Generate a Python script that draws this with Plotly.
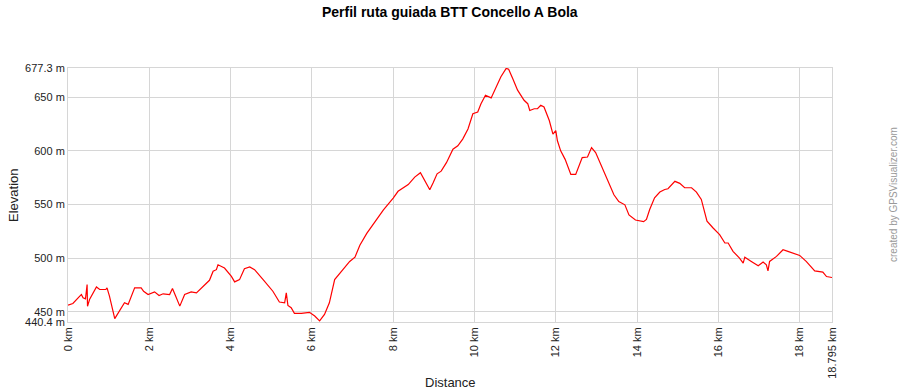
import plotly.graph_objects as go

distance_km = [
    0.0, 0.12, 0.29, 0.33, 0.37, 0.43, 0.47, 0.48, 0.53, 0.61, 0.70, 0.78, 0.93, 0.96,
    1.02, 1.15, 1.27, 1.39, 1.48, 1.56, 1.64, 1.80, 1.86, 1.97, 2.13, 2.24, 2.34, 2.50,
    2.57, 2.65, 2.75, 2.87, 3.03, 3.16, 3.32, 3.48, 3.57, 3.65, 3.69, 3.85, 4.02, 4.10,
    4.22, 4.29, 4.34, 4.47, 4.59, 4.80, 5.04, 5.20, 5.33, 5.37, 5.41, 5.49, 5.57, 5.74,
    5.94, 6.07, 6.19, 6.31, 6.43, 6.56, 6.64, 6.72, 6.93,
    7.06, 7.18, 7.35, 7.55, 7.76, 8.0, 8.12, 8.37, 8.53, 8.67, 8.78, 8.90, 8.98, 9.08,
    9.18, 9.31, 9.47, 9.59, 9.71, 9.84, 9.96, 10.08, 10.16, 10.27, 10.41, 10.53, 10.65,
    10.78, 10.84, 10.94, 11.06, 11.22, 11.31, 11.36, 11.47, 11.55, 11.63, 11.71, 11.84,
    11.93, 12.0, 12.04, 12.12, 12.23, 12.37, 12.49, 12.65, 12.78, 12.88, 12.98, 13.14,
    13.31, 13.43, 13.55, 13.70, 13.80, 13.96, 14.16, 14.23, 14.31, 14.43, 14.56, 14.68,
    14.76, 14.93, 15.05, 15.17, 15.34, 15.46, 15.58, 15.66, 15.72, 15.87, 16.03, 16.16,
    16.24, 16.36, 16.52, 16.61, 16.65, 16.81, 16.98, 17.10, 17.18, 17.22, 17.26, 17.43,
    17.59, 17.71, 18.0, 18.16, 18.37, 18.57, 18.66, 18.795,
]

elevation_m = [
    456.2, 457.7, 464.5, 466.0, 463.0, 462.0, 475.3, 455.0, 461.4, 467.6, 473.1, 470.7, 470.7, 472.2,
    464.5, 443.5, 450.6, 458.3, 456.8, 464.5, 472.2, 472.2, 469.1, 466.0, 468.5, 465.1, 466.7, 466.0,
    471.6, 464.5, 455.2, 466.0, 468.5, 467.6, 473.1, 479.3, 487.7, 489.2, 493.8, 490.7, 483.0, 477.8,
    479.9, 486.1, 490.1, 491.7, 489.2, 479.9, 469.1, 459.0, 458.3, 467.6, 455.9, 453.7, 448.5, 448.5,
    449.4, 446.0, 441.4, 447.5, 458.3, 480.0, 483.6, 487.7, 496.9,
    500.9, 512.0, 523.0, 534.0, 545.0, 556.0, 562.3, 568.6, 575.5, 579.6, 571.7, 563.8, 570.1, 578.6,
    581.1, 589.0, 601.6, 604.7, 611.0, 620.4, 634.6, 636.2, 644.0, 651.9, 649.4, 659.7, 669.2,
    677.0, 676.1, 667.6, 656.6, 647.2, 644.0, 637.7, 639.3, 639.3, 642.5, 640.9, 628.3,
    615.7, 618.9, 609.4, 600.0, 592.1, 578.0, 578.0, 593.7, 594.3, 603.1, 598.4, 584.3,
    568.6, 559.1, 552.8, 549.7, 540.3, 535.5, 534.0, 536.0, 545.3, 556.3, 561.6, 564.0,
    564.7, 571.6, 569.7, 565.6, 565.6, 561.6, 554.7, 542.2, 534.4, 528.1, 521.9, 514.1,
    514.1, 506.3, 500.0, 495.3, 500.9, 496.9, 492.8, 496.3, 493.8, 488.1, 496.9, 501.6,
    507.8, 506.3, 502.5, 496.9, 488.1, 486.9, 482.8, 481.9,
]

x_tick_vals = [0, 2, 4, 6, 8, 10, 12, 14, 16, 18, 18.795]
x_tick_text = ["0 km", "2 km", "4 km", "6 km", "8 km", "10 km", "12 km", "14 km",
               "16 km", "18 km", "18.795 km"]
y_tick_vals = [440.4, 450, 500, 550, 600, 650, 677.3]
y_tick_text = ["440.4 m", "450 m", "500 m", "550 m", "600 m", "650 m", "677.3 m"]

title_text = "Perfil ruta guiada BTT Concello A Bola"
x_title = "Distance"
y_title = "Elevation"
credit_text = "created by GPSVisualizer.com"

FONT = "Liberation Sans, Arial, sans-serif"
GRID = "#d6d6d6"

fig = go.Figure()
fig.add_trace(go.Scatter(
    x=distance_km, y=elevation_m, mode="lines",
    line=dict(color="#ff0000", width=1.2),
    hoverinfo="skip", showlegend=False,
))

W, H = 900, 391
L, R, T, B = 68, 68, 68, 67
pw = W - L - R
ph = H - T - B

def px_x(px):
    return (px - L) / pw

def px_y(py):
    return (H - B - py) / ph

fig.update_layout(
    width=W, height=H,
    margin=dict(l=L, r=R, t=T, b=B, pad=0),
    paper_bgcolor="white", plot_bgcolor="white",
    font=dict(family=FONT, size=11, color="#222222"),
    xaxis=dict(
        range=[0, 18.795], tickmode="array", tickvals=x_tick_vals, ticktext=x_tick_text,
        tickangle=-90, showgrid=True, gridcolor=GRID, gridwidth=1, zeroline=False,
        showline=True, linecolor=GRID, mirror=True, ticks="", ticklen=0,
        tickfont=dict(family=FONT, size=11, color="#222222"),
    ),
    yaxis=dict(
        range=[440.4, 677.3], tickmode="array", tickvals=y_tick_vals, ticktext=y_tick_text,
        showgrid=True, gridcolor=GRID, gridwidth=1, zeroline=False,
        showline=True, linecolor=GRID, mirror=True, ticks="", ticklen=2,
        tickfont=dict(family=FONT, size=11, color="#222222"),
    ),
    annotations=[
        dict(text="<b>" + title_text + "</b>", xref="paper", yref="paper",
             x=px_x(450), y=px_y(12), xanchor="center", yanchor="middle",
             showarrow=False, font=dict(family=FONT, size=14, color="#000000")),
        dict(text=x_title, xref="paper", yref="paper",
             x=px_x(450), y=px_y(385), xanchor="center", yanchor="middle",
             showarrow=False, font=dict(family=FONT, size=13, color="#222222")),
        dict(text=y_title, xref="paper", yref="paper", textangle=-90,
             x=px_x(13), y=px_y(196), xanchor="center", yanchor="middle",
             showarrow=False, font=dict(family=FONT, size=13, color="#222222")),
        dict(text=credit_text, xref="paper", yref="paper", textangle=-90,
             x=px_x(893), y=px_y(196), xanchor="center", yanchor="middle",
             showarrow=False, font=dict(family=FONT, size=10, color="#999999")),
    ],
)

fig.write_html("out.html")
